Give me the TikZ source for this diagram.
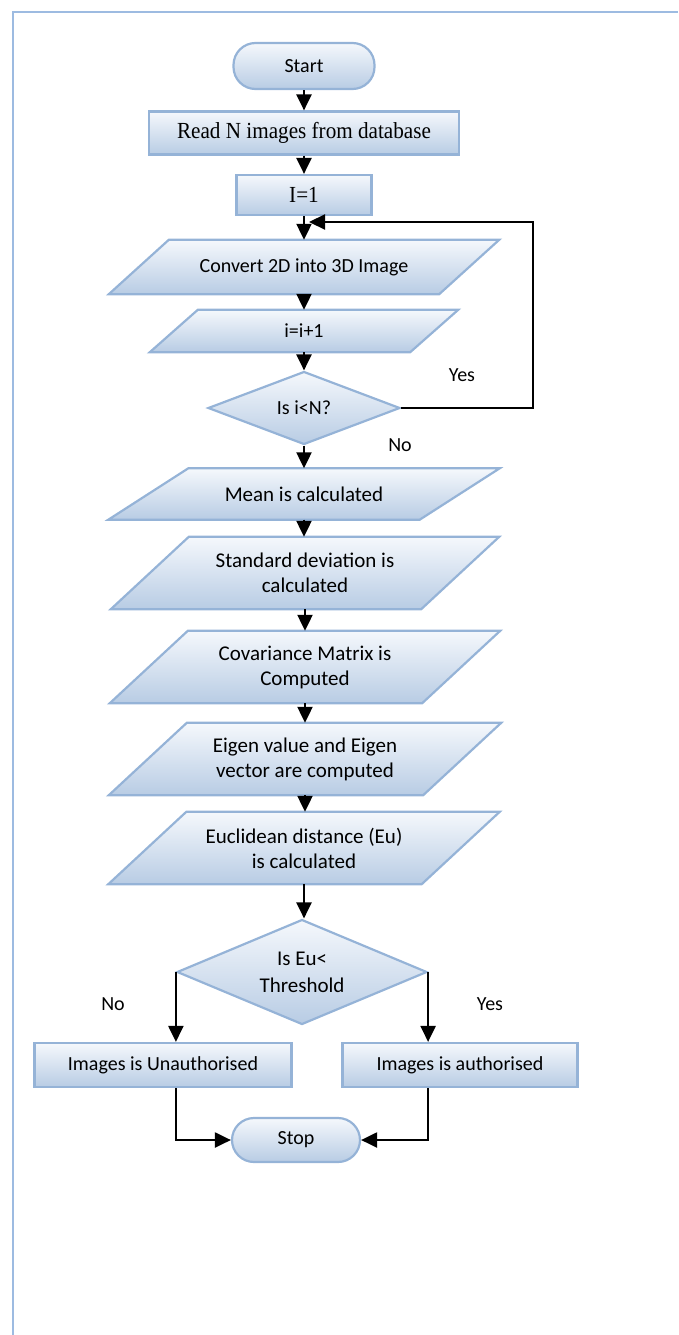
\documentclass[tikz,border=0pt]{standalone}
\usepackage{fontspec}
\newfontfamily\timesn[FakeStretch=0.92]{Liberation Serif}
\newfontfamily\calib{Carlito}
\usetikzlibrary{shapes.geometric,arrows.meta,backgrounds}
\definecolor{boxline}{HTML}{95B3D7}
\definecolor{boxtop}{HTML}{F5F8FC}
\definecolor{boxbot}{HTML}{B8CCE4}
\definecolor{frameline}{HTML}{9DBBE1}

\begin{document}
\begin{tikzpicture}[x=1pt,y=-1pt,
		fillbox/.style={draw=boxline,line width=2.2pt,top color=boxtop,bottom color=boxbot},
		box/.style={fillbox,inner sep=2pt,align=center,font=\calib\fontsize{20}{26}\selectfont},
		rmtext/.style={font=\timesn\fontsize{23}{26}\selectfont},
		bigtext/.style={font=\calib\fontsize{21}{25}\selectfont},
		term/.style={box,rounded corners=22pt,minimum width=141pt,minimum height=46pt},
		proc/.style={box,minimum height=44pt},
		io/.style={inner sep=2pt,align=center,font=\calib\fontsize{20}{26}\selectfont},
		dec/.style={box,diamond,aspect=2.5,inner sep=0pt},
		arr/.style={-{Triangle[length=16pt,width=15pt]},line width=2.2pt},
		lbl/.style={font=\calib\fontsize{20}{24}\selectfont}]
		\useasboundingbox (0,0) rectangle (678,1335);
		\draw[frameline,line width=2.5pt] (13,1335) -- (13,12) -- (678,12);
		\node[term] (start) at (304,66) {Start};
		\node[proc,rmtext,minimum width=310pt,minimum height=43pt] (read) at (304,133) {Read N images from database};
		\node[proc,rmtext,minimum width=135pt,minimum height=40pt] (i1) at (304,195) {I=1};
		\node[io,minimum width=390pt,minimum height=54pt] (conv) at (304,267) {Convert 2D into 3D Image};
		\node[io,minimum width=308pt,minimum height=42pt] (inc) at (304,331) {i=i+1};
		\node[dec,minimum width=192pt,minimum height=73pt] (chk) at (304,408) {Is i<N?};
		\node[io,bigtext,minimum width=391pt,minimum height=51pt] (mean) at (304,494) {Mean is calculated};
		\node[io,bigtext,minimum width=388pt,minimum height=72pt] (sd) at (305,573) {Standard deviation is\\calculated};
		\node[io,bigtext,minimum width=390pt,minimum height=72pt] (cov) at (305,667) {Covariance Matrix is\\Computed};
		\node[io,bigtext,minimum width=392pt,minimum height=72pt] (eig) at (305,759) {Eigen value and Eigen\\vector are computed};
		\node[io,bigtext,minimum width=391pt,minimum height=72pt] (euc) at (304,848) {Euclidean distance (Eu)\\is calculated};
		\node[dec,font=\calib\fontsize{21}{27}\selectfont,minimum width=250pt,minimum height=105pt] (thr) at (302,972) {Is Eu<\\Threshold};
		\node[proc,minimum width=257pt] (unauth) at (163,1065) {Images is Unauthorised};
		\node[proc,minimum width=235pt] (auth) at (460,1065) {Images is authorised};
		\node[term,minimum width=128pt,minimum height=44pt] (stop) at (296,1140) {Stop};
		\coordinate (loop) at (533,222);
		\coordinate (loopin) at (309,222);
		\node[lbl] (yes1) at (462,375) {Yes};
		\node[lbl] (no1) at (400,445) {No};
		\node[lbl] (no2) at (113,1004) {No};
		\node[lbl] (yes2) at (490,1004) {Yes};
		\begin{scope}[on background layer]
			\draw[fillbox] ([xshift=60]conv.north west) -- (conv.north east) -- ([xshift=-60]conv.south east) -- (conv.south west) -- cycle;
			\draw[fillbox] ([xshift=48]inc.north west) -- (inc.north east) -- ([xshift=-48]inc.south east) -- (inc.south west) -- cycle;
			\draw[fillbox] ([xshift=80]mean.north west) -- (mean.north east) -- ([xshift=-80]mean.south east) -- (mean.south west) -- cycle;
			\draw[fillbox] ([xshift=78]sd.north west) -- (sd.north east) -- ([xshift=-78]sd.south east) -- (sd.south west) -- cycle;
			\draw[fillbox] ([xshift=78]cov.north west) -- (cov.north east) -- ([xshift=-78]cov.south east) -- (cov.south west) -- cycle;
			\draw[fillbox] ([xshift=78]eig.north west) -- (eig.north east) -- ([xshift=-78]eig.south east) -- (eig.south west) -- cycle;
			\draw[fillbox] ([xshift=78]euc.north west) -- (euc.north east) -- ([xshift=-78]euc.south east) -- (euc.south west) -- cycle;
		\end{scope}
		\draw[arr] (start) -- (read);
		\draw[arr] (read) -- (i1);
		\draw[arr] (i1) -- (conv);
		\draw[arr] (conv) -- (inc);
		\draw[arr] (inc) -- (chk);
		\draw[arr] (chk) -- (mean);
		\draw[arr] (mean) -- (mean |- sd.north);
		\draw[arr] (sd) -- (cov);
		\draw[arr] (cov) -- (eig);
		\draw[arr] (eig) -- (eig |- euc.north);
		\draw[arr] (euc) -- (euc |- thr.north);
		\draw[arr] (chk.east) -| (loop) -- (loopin);
		\draw[arr] (thr.west) -- (thr.west |- unauth.north);
		\draw[arr] (thr.east) -- (thr.east |- auth.north);
		\draw[arr] (thr.west |- unauth.south) |- (stop.west);
		\draw[arr] (thr.east |- auth.south) |- (stop.east);
	\end{tikzpicture}
\end{document}
